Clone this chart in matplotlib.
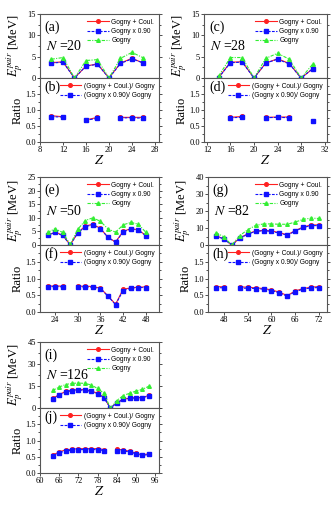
import numpy as np
import matplotlib
matplotlib.use("Agg")
import matplotlib.pyplot as plt
from matplotlib.ticker import MultipleLocator, AutoMinorLocator

plt.rcParams['font.family'] = ['Liberation Serif', 'DejaVu Serif']
plt.rcParams['mathtext.fontset'] = 'stix'

# ---------------- data ----------------
# N = 20
z20 = [10, 12, 14, 16, 18, 20, 22, 24, 26]
g20 = [4.4, 4.8, 0.0, 4.1, 4.3, 0.0, 4.6, 6.0, 4.7]
gc20 = [3.6, 3.8, 0.0, 2.8, 3.3, 0.0, 3.5, 4.6, 3.5]
g90_20 = [3.5, 3.7, 0.0, 2.8, 3.2, 0.0, 3.4, 4.5, 3.5]
rc20 = [0.82, 0.79, None, 0.69, 0.77, None, 0.77, 0.77, 0.77]
r90_20 = [0.79, 0.78, None, 0.68, 0.74, None, 0.75, 0.76, 0.74]

# N = 28
z28 = [14, 16, 18, 20, 22, 24, 26, 28, 30]
g28 = [0.5, 4.8, 4.8, 0.0, 4.6, 5.8, 4.4, 0.0, 3.3]
gc28 = [0.15, 3.7, 3.8, 0.0, 3.5, 4.5, 3.4, 0.0, 2.2]
g90_28 = [0.1, 3.6, 3.7, 0.0, 3.5, 4.4, 3.3, 0.0, 2.2]
rc28 = [None, 0.77, 0.80, None, 0.77, 0.78, 0.78, None, 0.67]
r90_28 = [None, 0.76, 0.77, None, 0.76, 0.77, 0.76, None, 0.66]

# N = 50
z50 = [22, 24, 26, 28, 30, 32, 34, 36, 38, 40, 42, 44, 46, 48]
g50 = [4.6, 6.0, 4.6, 0.2, 5.8, 9.0, 10.0, 8.7, 5.9, 4.7, 7.4, 8.3, 7.7, 4.7]
gc50 = [3.6, 4.7, 3.6, 0.1, 4.5, 7.0, 7.6, 6.1, 2.8, 1.1, 5.0, 6.0, 5.6, 3.5]
g90_50 = [3.5, 4.6, 3.5, 0.1, 4.4, 6.8, 7.4, 6.0, 2.8, 1.0, 4.8, 5.9, 5.5, 3.4]
rc50 = [0.77, 0.78, 0.77, None, 0.77, 0.77, 0.76, 0.71, 0.48, 0.23, 0.68, 0.72, 0.74, 0.75]
r90_50 = [0.75, 0.76, 0.75, None, 0.75, 0.75, 0.74, 0.70, 0.47, 0.22, 0.64, 0.71, 0.73, 0.73]

# N = 82
z82 = [46, 48, 50, 52, 54, 56, 58, 60, 62, 64, 66, 68, 70, 72]
g82 = [7.3, 4.8, 0.0, 5.5, 9.0, 11.5, 12.4, 12.4, 12.2, 12.2, 13.5, 15.1, 15.8, 15.6]
gc82 = [5.5, 3.6, 0.0, 4.1, 6.6, 8.2, 8.6, 8.3, 7.2, 6.0, 8.5, 10.6, 11.8, 11.8]
g90_82 = [5.3, 3.5, 0.0, 3.9, 6.4, 8.0, 8.4, 8.0, 7.0, 5.8, 8.2, 10.3, 11.4, 11.4]
rc82 = [0.76, 0.75, None, 0.75, 0.74, 0.72, 0.70, 0.66, 0.59, 0.49, 0.63, 0.70, 0.74, 0.76]
r90_82 = [0.73, 0.72, None, 0.71, 0.71, 0.70, 0.68, 0.64, 0.57, 0.47, 0.61, 0.68, 0.72, 0.73]

# N = 126
z126 = [64, 66, 68, 70, 72, 74, 76, 78, 80, 82, 84, 86, 88, 90, 92, 94]
g126 = [12.0, 14.3, 16.0, 16.8, 17.0, 16.8, 15.7, 13.3, 10.0, 0.0, 5.0, 8.5, 10.0, 11.6, 12.7, 14.8]
gc126 = [6.5, 9.2, 11.3, 12.2, 12.6, 12.5, 11.7, 10.0, 7.2, 0.0, 3.6, 6.0, 6.7, 7.1, 7.1, 8.6]
g90_126 = [6.2, 8.9, 10.9, 11.8, 12.2, 12.1, 11.3, 9.6, 6.9, 0.0, 3.4, 5.8, 6.5, 6.9, 6.9, 8.4]
rc126 = [0.55, 0.65, 0.71, 0.73, 0.75, 0.75, 0.75, 0.75, 0.72, None, 0.73, 0.71, 0.67, 0.61, 0.56, 0.59]
r90_126 = [0.52, 0.62, 0.68, 0.70, 0.72, 0.72, 0.72, 0.72, 0.69, None, 0.69, 0.68, 0.65, 0.59, 0.54, 0.57]

labels_top = ["Gogny + Coul.", "Gogny x 0.90", "Gogny"]
labels_ratio = ["(Gogny + Coul.)/ Gogny", "(Gogny x 0.90)/ Gogny"]

RED = '#ff2020'
BLUE = '#1010ff'
GREEN = '#33ee33'

W, H = 335.0, 505.0
fig = plt.figure(figsize=(W / 100, H / 100), dpi=100)


def px_axes(x0, x1, y0, y1):
    return fig.add_axes([x0 / W, 1 - y1 / H, (x1 - x0) / W, (y1 - y0) / H])


def style(ax):
    for s in ax.spines.values():
        s.set_color('#555555')
        s.set_linewidth(0.8)
    ax.tick_params(which='both', direction='out', labelsize=6, width=0.6,
                   length=2, pad=1, colors='#333333', labelcolor='black')
    ax.tick_params(axis='y', which='both', right=True)
    ax.tick_params(which='minor', length=1.2)
    ax.yaxis.set_minor_locator(AutoMinorLocator(2))


def arr(v):
    return np.array([np.nan if a is None else a for a in v], dtype=float)


panels = [
    (40, 159, 14, 78, 142, z20, g20, gc20, g90_20, rc20, r90_20, (8, 28.7), np.arange(8, 29, 4), 15, 5, ('(a)', '(b)'), 20),
    (204, 327, 14, 78, 142, z28, g28, gc28, g90_28, rc28, r90_28, (11.5, 32.4), np.arange(12, 33, 4), 15, 5, ('(c)', '(d)'), 28),
    (40, 159, 177, 245, 312, z50, g50, gc50, g90_50, rc50, r90_50, (20, 51.5), np.arange(24, 49, 6), 25, 5, ('(e)', '(f)'), 50),
    (208, 327, 177, 245, 312, z82, g82, gc82, g90_82, rc82, r90_82, (44, 74), np.arange(48, 73, 6), 40, 10, ('(g)', '(h)'), 82),
    (40, 159, 342, 408, 473, z126, g126, gc126, g90_126, rc126, r90_126, (60, 97.2), np.arange(60, 97, 6), 45, 15, ('(i)', '(j)'), 126),
]

for (x0, x1, yt, ym, yb, z, g, gc, g90, rc, r90, xl, xt, ymax, ystep, lets, N) in panels:
    at = px_axes(x0, x1, yt, ym)
    ar = px_axes(x0, x1, ym, yb)
    z = np.array(z, dtype=float)
    at.plot(z, gc, '-', color=RED, lw=0.8, marker='o', ms=2.6, label=labels_top[0])
    at.plot(z, g90, color=BLUE, lw=0.8, ls=(0, (2.5, 1.2)), marker='s', ms=2.4, label=labels_top[1])
    at.plot(z, g, color=GREEN, lw=0.8, ls=(0, (3, 1.2, 1, 1.2)), marker='^', ms=2.6, label=labels_top[2])
    ar.plot(z, arr(rc), '-', color=RED, lw=0.8, marker='o', ms=2.6, label=labels_ratio[0])
    ar.plot(z, arr(r90), color=BLUE, lw=0.8, ls=(0, (2.5, 1.2)), marker='s', ms=2.4, label=labels_ratio[1])

    for ax in (at, ar):
        ax.set_xlim(*xl)
        ax.set_xticks(xt)
        style(ax)
    at.set_ylim(0, ymax)
    at.yaxis.set_major_locator(MultipleLocator(ystep))
    at.tick_params(axis='x', labelbottom=False)
    ar.set_ylim(0, 2.0)
    ar.set_yticks([0.0, 0.5, 1.0, 1.5])
    ar.set_yticklabels(['0.0', '0.5', '1.0', '1.5'])

    leg_kw = dict(loc='upper right', frameon=False, handlelength=3.2,
                  handletextpad=0.4, labelspacing=0.35, borderaxespad=0.3,
                  prop={'family': 'Liberation Sans', 'size': 4.8})
    at.legend(**leg_kw)
    ar.legend(**leg_kw)

    at.text(0.04, 0.80, lets[0], transform=at.transAxes, fontsize=10, va='center', ha='left')
    ar.text(0.04, 0.86, lets[1], transform=ar.transAxes, fontsize=10, va='center', ha='left')
    at.text(0.05, 0.50, r'$N$ =%d' % N, transform=at.transAxes, fontsize=10, va='center', ha='left')

    w = x1 - x0
    at.set_ylabel(r'$E_p^{pair}$ [MeV]', fontsize=9)
    ar.set_ylabel('Ratio', fontsize=9)
    ar.set_xlabel(r'$Z$', fontsize=10, labelpad=0)
    at.yaxis.set_label_coords(-15.0 / w, 0.5)
    ar.yaxis.set_label_coords(-16.0 / w, 0.5)

fig.savefig('out.png', dpi=100)
